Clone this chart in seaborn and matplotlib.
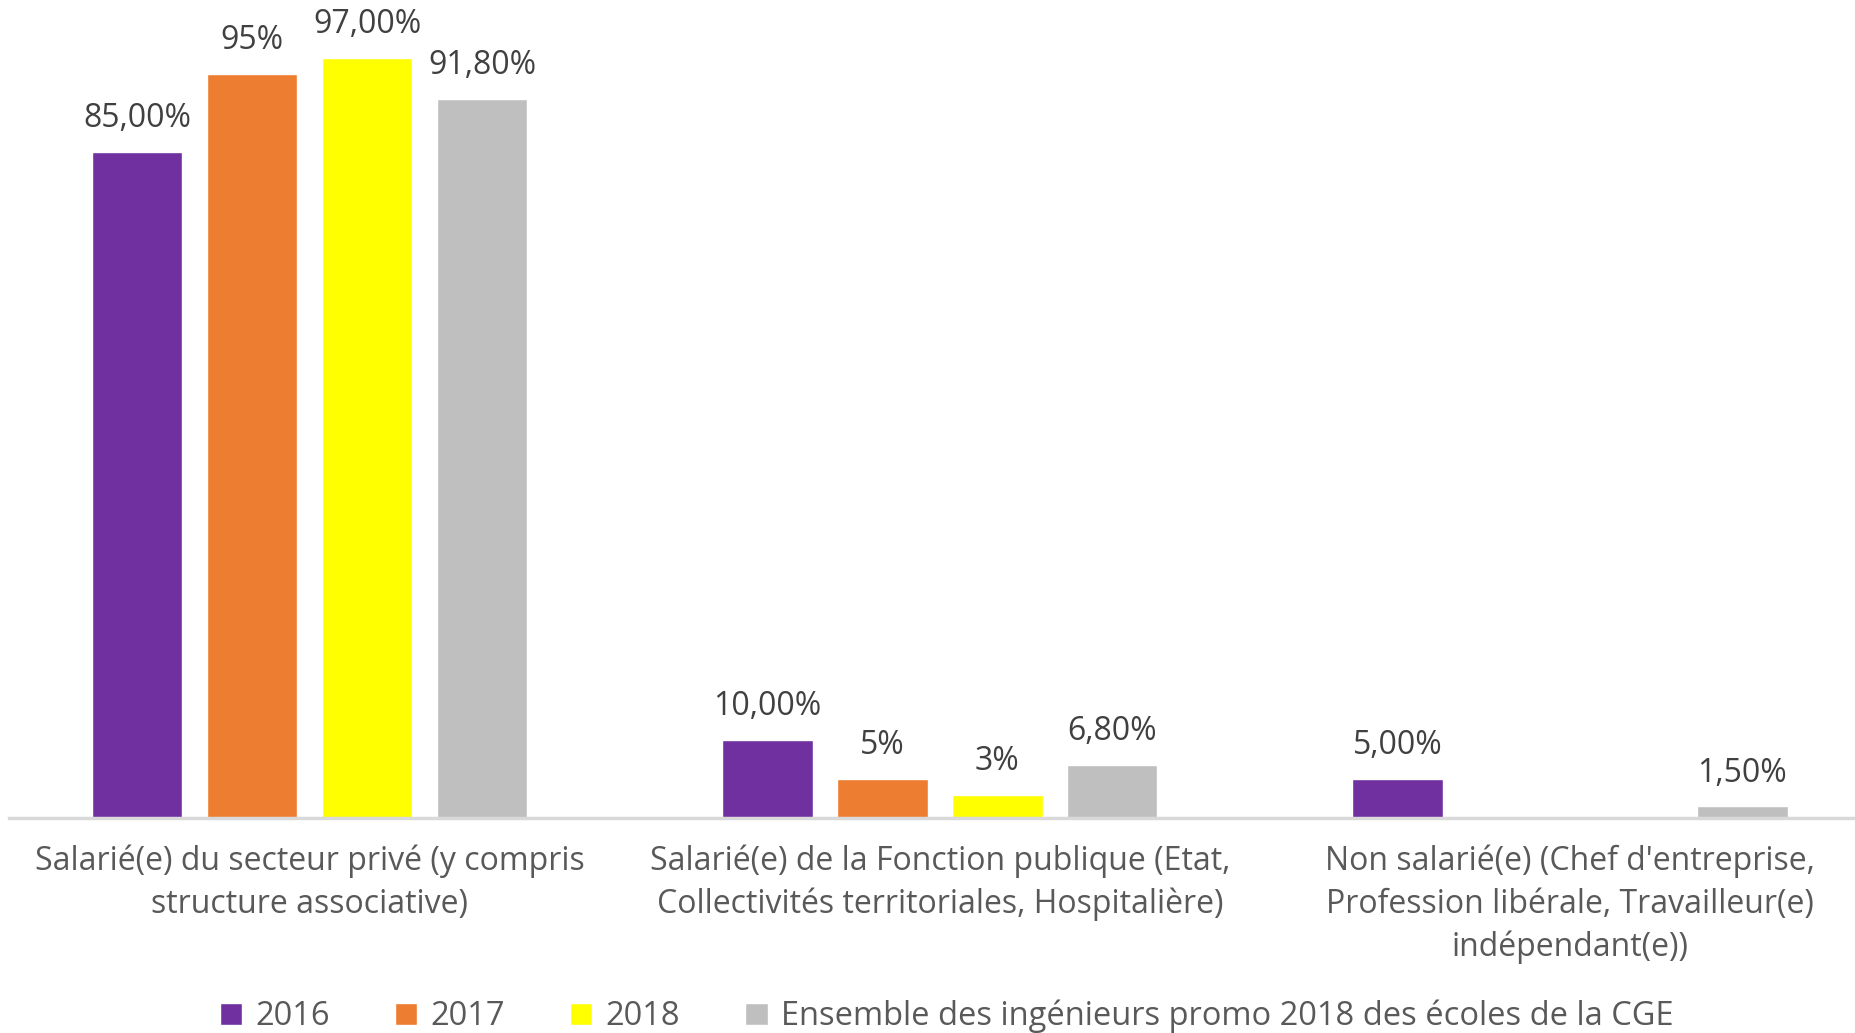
import pandas as pd
import numpy as np
import matplotlib.pyplot as plt
import seaborn as sns

# données
categories = [
    "Salarié(e) du secteur privé (y compris\nstructure associative)",
    "Salarié(e) de la Fonction publique (Etat,\nCollectivités territoriales, Hospitalière)",
    "Non salarié(e) (Chef d'entreprise,\nProfession libérale, Travailleur(e)\nindépendant(e))",
]
series = ["2016", "2017", "2018", "Ensemble des ingénieurs promo 2018 des écoles de la CGE"]
v2016 = [85.0, 10.0, 5.0]
v2017 = [95.0, 5.0, np.nan]
v2018 = [97.0, 3.0, np.nan]
vcge = [91.8, 6.8, 1.5]
labels2016 = ["85,00%", "10,00%", "5,00%"]
labels2017 = ["95%", "5%", ""]
labels2018 = ["97,00%", "3%", ""]
labelscge = ["91,80%", "6,80%", "1,50%"]
couleurs = ["#7030A0", "#ED7D31", "#FFFF00", "#BFBFBF"]

rows = []
for s, vals, labs in zip(series, [v2016, v2017, v2018, vcge],
                         [labels2016, labels2017, labels2018, labelscge]):
    for c, v, l in zip(categories, vals, labs):
        rows.append({"cat": c, "serie": s, "val": v, "lab": l})
df = pd.DataFrame(rows).dropna(subset=["val"])

sns.set_style("white")
plt.rcParams['font.family'] = ['Open Sans', 'DejaVu Sans']

fig = plt.figure(figsize=(18.56, 10.33), dpi=100)
ax = fig.add_axes([0.005, 0.208, 0.995, 0.789])

sns.barplot(data=df, x="cat", y="val", hue="serie", hue_order=series,
            order=categories, palette=couleurs, width=0.73, gap=0.215, ax=ax,
            legend=True, saturation=1)

for cont, s in zip(ax.containers, series):
    labs = df.loc[df["serie"] == s, "lab"].tolist()
    ax.bar_label(cont, labels=labs, padding=12, fontsize=23, color="#404040")

ax.set_xlim(-0.477, 2.454)
ax.set_ylim(0, 104)
ax.set_xlabel("")
ax.set_ylabel("")
ax.set_yticks([])
ax.tick_params(axis="x", length=0, pad=19, labelsize=23, labelcolor="#595959")
for lab in ax.get_xticklabels():
    lab.set_linespacing(1.38)
    lab.set_verticalalignment("top")
for side in ["top", "right", "left"]:
    ax.spines[side].set_visible(False)
ax.spines["bottom"].set_color("#D9D9D9")
ax.spines["bottom"].set_linewidth(2.5)

handles, leg_labels = ax.get_legend_handles_labels()
ax.get_legend().remove()
fig.legend(handles, leg_labels, loc="center", bbox_to_anchor=(0.51, 0.016),
           ncol=4, frameon=False, fontsize=23.5, handlelength=0.68, handleheight=0.68,
           handletextpad=0.4, columnspacing=2.0, labelcolor="#595959")

fig.savefig("out.png", dpi=100)
